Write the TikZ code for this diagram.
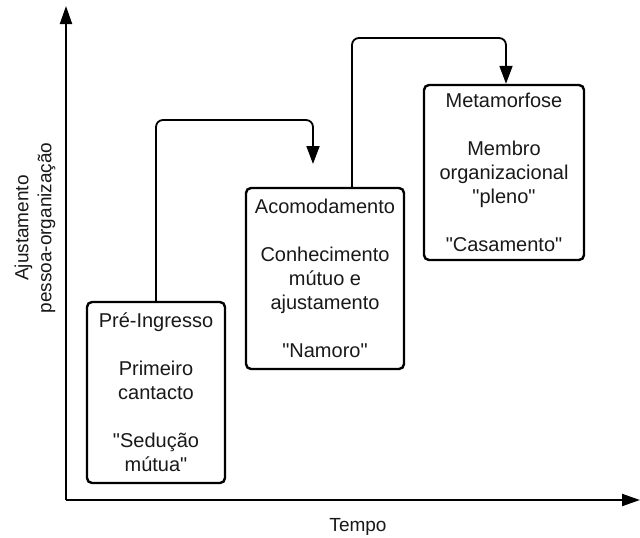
\documentclass[tikz,border=0pt]{standalone}
\usepackage{fontspec}
\setmainfont{Liberation Sans}[Ligatures=TeXOff]
\usetikzlibrary{arrows.meta}
\begin{document}
\begin{tikzpicture}[x=1pt,y=1pt,
  stagebox/.style={draw=black, line width=2.4pt, rounded corners=5pt,
    align=center, inner sep=0pt, font=\fontsize{20}{24}\selectfont, text=black!90},
  conn/.style={draw=black, line width=1.8pt, rounded corners=7pt,
    -{Triangle[length=18pt,width=13pt]}},
  axis/.style={draw=black, line width=2pt, -{Triangle[length=18pt,width=12pt]}},
  axislabel/.style={font=\fontsize{19}{23}\selectfont, align=center, text=black!90}]
% page frame
\path[use as bounding box, fill=white] (0,0) rectangle (640,-538);
% axes
\coordinate (o) at (66,-500);
\coordinate (ytop) at (66,-6);
\coordinate (xend) at (640,-500);
\draw[axis] (o) -- (ytop);
\draw[axis] (o) -- (xend);
\node[axislabel] (xlab) at (358,-527) {Tempo};
\node[axislabel, rotate=90] (ylab) at (35,-228) {Ajustamento\\pessoa-organização};
% stages
\node[stagebox, minimum width=138pt, minimum height=181pt] (b1) at (156,-392.5)
  {Pré-Ingresso\\[24pt]Primeiro\\cantacto\\[24pt]"Sedução\\mútua"};
\node[stagebox, minimum width=158pt, minimum height=181pt] (b2) at (325,-278.5)
  {Acomodamento\\[24pt]Conhecimento\\mútuo e\\ajustamento\\[24pt]"Namoro"};
\node[stagebox, minimum width=160pt, minimum height=175pt] (b3) at (504,-172.5)
  {Metamorfose\\[24pt]Membro\\organizacional\\"pleno"\\[24pt]"Casamento"};
% transitions
\coordinate (c1) at (313,-120);
\coordinate (e1) at (313,-164);
\draw[conn] (b1.north) |- (c1) -- (e1);
\coordinate (c2) at (506,-38);
\draw[conn] ([xshift=27pt]b2.north) |- (c2) -- (c2 |- b3.north);
\end{tikzpicture}
\end{document}
